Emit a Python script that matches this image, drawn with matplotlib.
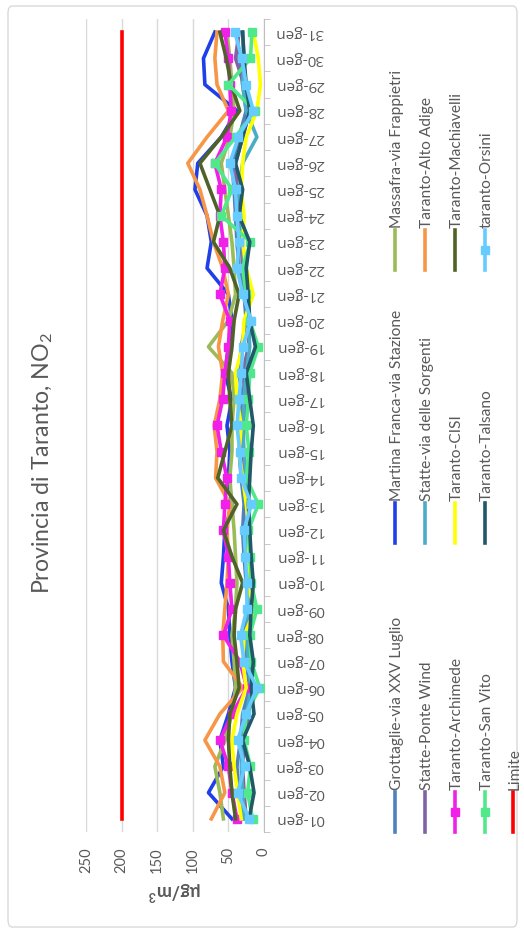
import matplotlib
matplotlib.use('Agg')
import matplotlib.pyplot as plt
from matplotlib.lines import Line2D
from matplotlib.patches import FancyBboxPatch
import numpy as np

plt.rcParams['font.family'] = ['Lato', 'DejaVu Sans']
plt.rcParams['mathtext.fontset'] = 'custom'
plt.rcParams['mathtext.rm'] = 'Lato'
plt.rcParams['mathtext.it'] = 'Lato:italic'
plt.rcParams['mathtext.bf'] = 'Lato:bold'

# ---------------- data ----------------
days = ["01-gen", "02-gen", "03-gen", "04-gen", "05-gen", "06-gen", "07-gen", "08-gen",
        "09-gen", "10-gen", "11-gen", "12-gen", "13-gen", "14-gen", "15-gen", "16-gen",
        "17-gen", "18-gen", "19-gen", "20-gen", "21-gen", "22-gen", "23-gen", "24-gen",
        "25-gen", "26-gen", "27-gen", "28-gen", "29-gen", "30-gen", "31-gen"]

grottaglie = [30, 35, 38, 33, 30, 20, 25, 28, 22, 25, 28, 30, 28, 32, 35, 33,
              30, 35, 32, 25, 28, 35, 38, 40, 42, 45, 35, 25, 30, 35, 38]
martina_franca = [45, 78, 57, 62, 50, 40, 45, 48, 50, 60, 57, 55, 45, 50, 48, 52,
                  45, 55, 50, 45, 50, 80, 74, 80, 97, 93, 60, 38, 83, 85, 69]
massafra = [57, 62, 69, 55, 45, 40, 42, 45, 40, 38, 40, 42, 45, 48, 45, 45,
            42, 45, 78, 50, 40, 42, 45, 50, 55, 60, 48, 42, 45, 48, 52]
statte_ponte_wind = [25, 28, 30, 28, 22, 15, 20, 22, 18, 20, 22, 25, 22, 28, 30, 28,
                     25, 30, 22, 20, 25, 30, 32, 35, 38, 40, 30, 20, 28, 40, 35]
statte_sorgenti = [28, 30, 32, 30, 25, 18, 22, 25, 20, 22, 25, 22, 20, 25, 28, 30,
                   28, 25, 20, 22, 25, 28, 30, 32, 35, 30, 10, 25, 30, 28, 30]
alto_adige = [74, 55, 62, 83, 62, 30, 57, 58, 55, 52, 50, 52, 48, 68, 66, 70,
              62, 58, 64, 58, 50, 58, 71, 80, 90, 107, 80, 50, 66, 69, 66]
archimede = [38, 45, 50, 62, 45, 24, 34, 57, 45, 48, 50, 57, 55, 52, 60, 66,
             58, 55, 50, 48, 62, 55, 57, 62, 60, 69, 52, 46, 48, 50, 55]
cisi = [32, 37, 42, 45, 38, 25, 30, 28, 12, 25, 22, 20, 25, 30, 35, 32,
        38, 40, 30, 28, 15, 25, 30, 28, 32, 30, 25, 10, 5, 8, 15]
machiavelli = [40, 45, 48, 50, 48, 35, 38, 42, 40, 30, 45, 57, 38, 65, 55, 45,
               48, 50, 45, 42, 35, 48, 71, 62, 76, 90, 60, 34, 46, 53, 62]
san_vito = [16, 23, 19, 28, 25, 6, 18, 20, 10, 18, 20, 22, 8, 25, 21, 25,
            22, 20, 8, 20, 25, 30, 19, 60, 45, 69, 40, 13, 50, 19, 17]
talsano = [21, 14, 20, 30, 14, 18, 15, 20, 18, 15, 18, 20, 22, 20, 18, 15,
           20, 25, 12, 20, 22, 25, 20, 35, 30, 40, 30, 20, 25, 28, 30]
orsini = [21, 37, 27, 37, 25, 10, 28, 33, 24, 24, 26, 28, 18, 32, 34, 38,
          35, 32, 30, 18, 30, 38, 35, 38, 40, 48, 36, 15, 25, 31, 41]
limite = [200] * 31

series_names = ["Grottaglie-via XXV Luglio", "Martina Franca-via Stazione",
                "Massafra-via Frappietri", "Statte-Ponte Wind",
                "Statte-via delle Sorgenti", "Taranto-Alto Adige",
                "Taranto-Archimede", "Taranto-CISI", "Taranto-Machiavelli",
                "Taranto-San Vito", "Taranto-Talsano", "taranto-Orsini", "Limite"]
series_values = [grottaglie, martina_franca, massafra, statte_ponte_wind,
                 statte_sorgenti, alto_adige, archimede, cisi, machiavelli,
                 san_vito, talsano, orsini, limite]
series_colors = ["#4F81BD", "#1F3FE8", "#9BBB59", "#8064A2", "#4BACC6", "#F79646",
                 "#F020E8", "#FFFF00", "#4F6228", "#4FE88A", "#215968", "#66CCFF",
                 "#FF0000"]
series_markers = [None, None, None, None, None, None, "s", None, None, "s", None, "s", None]

# ---------------- figure ----------------
W, H = 524, 934
fig = plt.figure(figsize=(W / 100, H / 100), dpi=100)

def fx(px):
    return px / W

def fy(py):
    return 1 - py / H

ax = fig.add_axes([fx(86), fy(832), fx(264) - fx(86), (832 - 19) / H])
ypos = np.arange(len(days))
for name, vals, col, mk in zip(series_names, series_values, series_colors, series_markers):
    ax.plot(vals, ypos, color=col, lw=2.6, marker=mk, markersize=5.5,
            solid_joinstyle='round', zorder=3)

ax.set_xlim(250, 0)
ax.set_ylim(-0.5, len(days) - 0.5)
ax.set_xticks([0, 50, 100, 150, 200, 250])
ax.set_xticklabels(["0", "50", "100", "150", "200", "250"], rotation=90)
ax.grid(axis='x', color='#d9d9d9', lw=1)
ax.set_axisbelow(True)
for s in ['top', 'bottom', 'left']:
    ax.spines[s].set_visible(False)
ax.spines['right'].set_color('#bfbfbf')
ax.yaxis.tick_right()
ax.set_yticks(ypos)
ax.set_yticklabels(days, fontfamily=['Open Sans', 'DejaVu Sans'])
for lbl in ax.get_yticklabels():
    lbl.set_rotation(180)
    lbl.set_va('center')
ax.set_yticks(np.arange(-0.5, len(days), 1), minor=True)
ax.tick_params(axis='y', which='major', length=0, pad=8, labelsize=11,
               labelcolor='#595959')
ax.tick_params(axis='y', which='minor', length=4, color='#bfbfbf', direction='out')
ax.tick_params(axis='x', length=0, pad=11, labelsize=10.5, labelcolor='#595959')

fig.text(fx(175), fy(891), r'µg/m$^\mathbf{3}$', rotation=180, ha='center', va='center',
         fontsize=13, fontweight='bold', color='#595959')

fig.text(fx(43), fy(463), r'Provincia di Taranto, NO$_2$', rotation=90, ha='center',
         va='center', fontsize=16.7, color='#595959')

# ---------------- legend (rotated) ----------------
col_x = [395, 425, 455, 485, 513]
group_start = [792, 503, 230]
handle_len = 40
ncols = 3
for i, (name, col, mk) in enumerate(zip(series_names, series_colors, series_markers)):
    g = i % ncols
    r = i // ncols
    x = col_x[r]
    y0 = group_start[g] + handle_len
    y1 = group_start[g]
    fig.add_artist(Line2D([fx(x), fx(x)], [fy(y0), fy(y1)], color=col, lw=2.6,
                          transform=fig.transFigure))
    if mk:
        fig.add_artist(Line2D([fx(x)], [fy((y0 + y1) / 2)], color=col, marker=mk,
                              markersize=5.5, transform=fig.transFigure))
    fig.text(fx(x + 2), fy(y1 - 2), name, rotation=90, rotation_mode='anchor',
             ha='left', va='center', fontsize=11.2, color='#595959')

fig.add_artist(FancyBboxPatch((fx(8), fy(927)), fx(517) - fx(8), fy(6) - fy(927),
                              boxstyle='round,pad=0,rounding_size=0.008',
                              transform=fig.transFigure, fc='none', ec='#d9d9d9', lw=1))

fig.savefig('out.png', dpi=100)
